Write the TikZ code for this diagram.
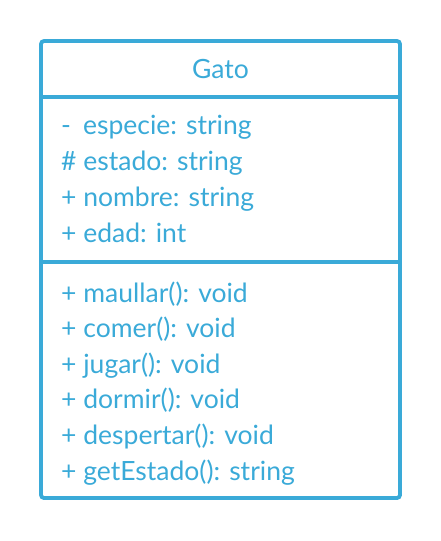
\documentclass[tikz,border=0pt]{standalone}
\usepackage{fontspec}
\setmainfont{Lato}
\usepackage{tikz}
\definecolor{umlblue}{RGB}{58,170,216}

\begin{document}
\begin{tikzpicture}[x=1pt,y=-1pt,
  linea/.style={draw=umlblue,line width=3.8pt},
  txt/.style={text=umlblue,inner sep=0pt,font=\fontsize{26.5}{30}\selectfont},
  fila/.style={txt,anchor=base west}]
\useasboundingbox (0,0) rectangle (441,541);
%caja
\draw[linea,rounded corners=3pt] (41,41) rectangle (400,498);
\coordinate (d1a) at (41,97);
\coordinate (d1b) at (400,97);
\coordinate (d2a) at (41,262);
\coordinate (d2b) at (400,262);
\draw[linea] (d1a) -- (d1b);
\draw[linea] (d2a) -- (d2b);
%nombre
\node[txt,anchor=base] (gato) at (220.5,78) {Gato};
%atributos
\node[fila] (especie) at (61,134) {-\hspace{12pt}especie: string};
\node[fila] (estado) at (61,170) {\# estado: string};
\node[fila] (nombre) at (61,206) {+ nombre: string};
\node[fila] (edad) at (61,242) {+ edad: int};
%metodos
\node[fila] (maullar) at (61,302) {+ maullar(): void};
\node[fila] (comer) at (61,337.6) {+ comer(): void};
\node[fila] (jugar) at (61,373.2) {+ jugar(): void};
\node[fila] (dormir) at (61,408.8) {+ dormir(): void};
\node[fila] (despertar) at (61,444.4) {+ despertar(): void};
\node[fila] (getestado) at (61,480) {+ getEstado(): string};
\end{tikzpicture}
\end{document}
